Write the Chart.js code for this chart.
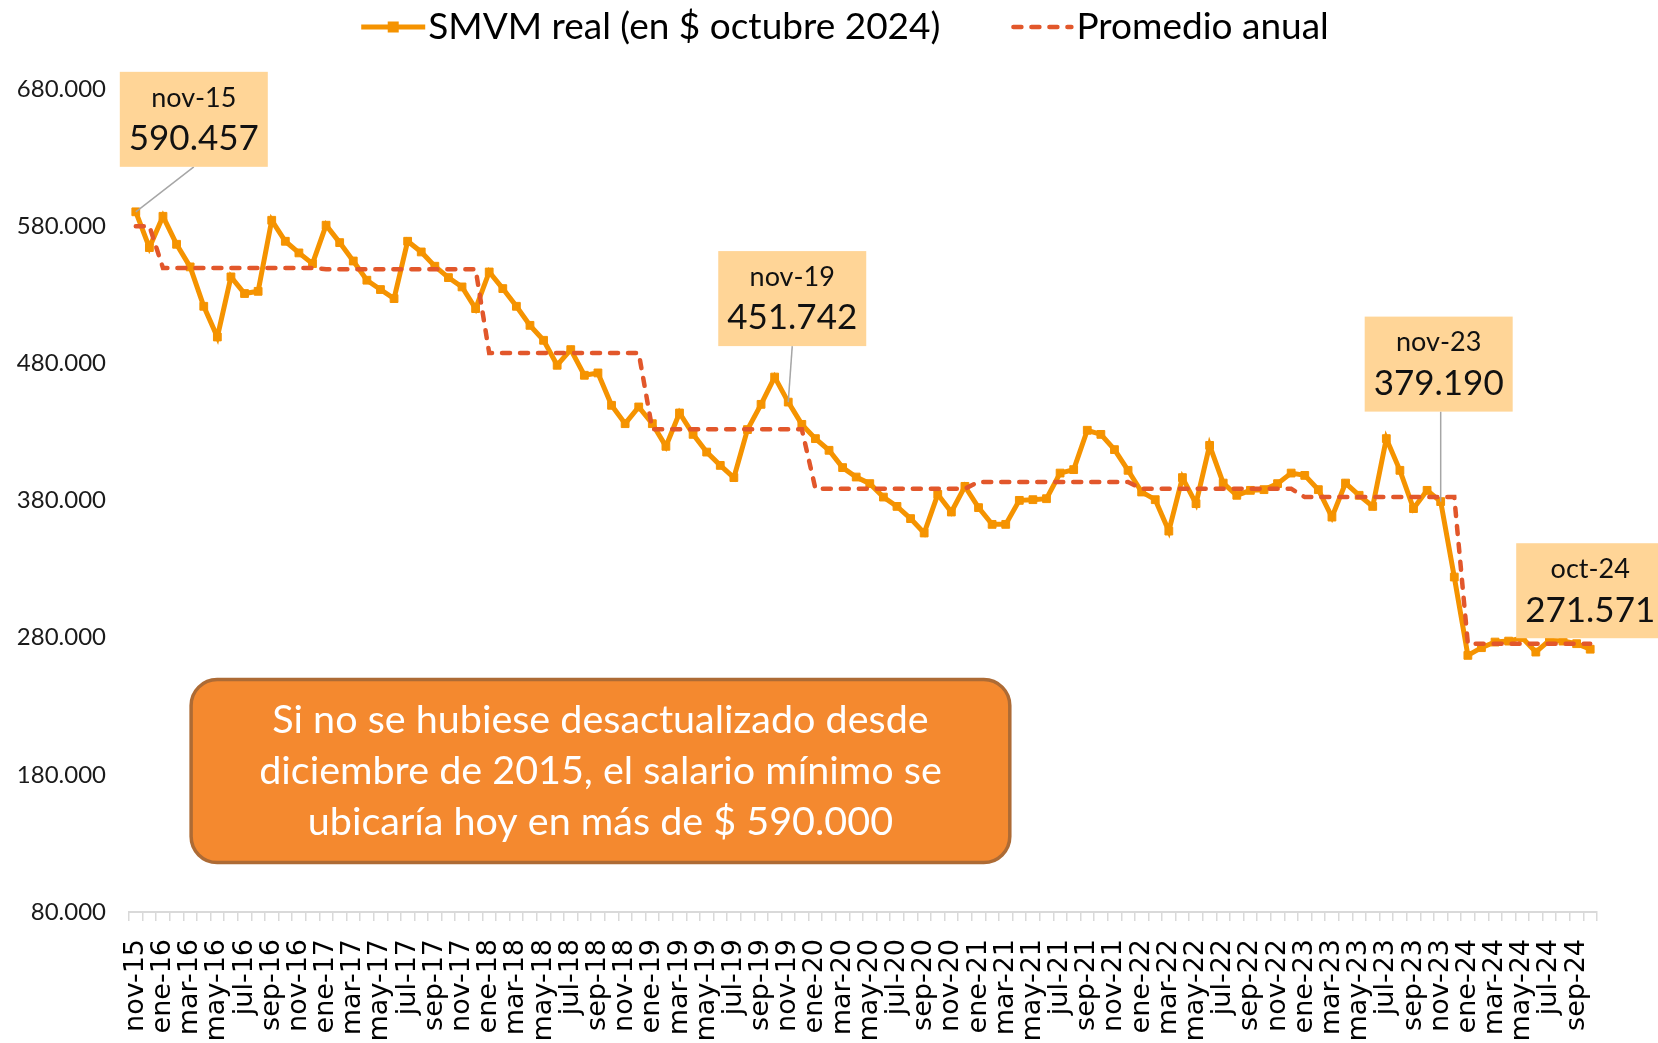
<!DOCTYPE html>
<html lang="es">
<head>
<meta charset="utf-8">
<title>SMVM real</title>
<script src="https://cdn.jsdelivr.net/npm/chart.js@4.4.1/dist/chart.umd.min.js"></script>
<style>
  html, body { margin:0; padding:0; background:#fff; }
  #wrap { position:relative; width:1658px; height:1043px; }
</style>
</head>
<body>
<div id="wrap"><canvas id="smvm"></canvas></div>
<script>
// --- data ---
const MONTHS = ["ene","feb","mar","abr","may","jun","jul","ago","sep","oct","nov","dic"];
const FIRST_YEAR = 2015, FIRST_MONTH = 10; // nov-15

// SMVM real, $ de octubre 2024, nov-15 .. oct-24
const SMVM = [
  590457, 564400,
  587200, 566800, 550300, 521600, 499200, 543000, 530900, 532500, 584300, 569000, 560500, 552700,
  580700, 568000, 554600, 540600, 533800, 527200, 569000, 561200, 550800, 542500, 535700, 519900,
  546600, 534500, 521600, 507700, 496800, 478600, 490000, 471300, 473000, 449400, 436000, 448200,
  436000, 419500, 443800, 428200, 415300, 405600, 396700, 431700, 450100, 470000, 451742, 435500,
  425100, 416600, 404000, 397100, 392300, 382500, 375700, 366800, 356300, 384500, 371600, 390300,
  374800, 362600, 362600, 380100, 380600, 381300, 400000, 402500, 431200, 428200, 417100, 402000,
  386200, 380600, 357700, 396700, 377700, 420200, 392700, 383800, 387400, 387900, 392300, 400000,
  398300, 387900, 367900, 392700, 383800, 375700, 425100, 402000, 374100, 387400, 379190, 324200,
  267100, 272700, 276800, 277500, 280000, 269500, 278000, 277500, 275600, 271571
];

// promedio anual
const AVG_YEARS  = [2015, 2016, 2017, 2018, 2019, 2020, 2021, 2022, 2023, 2024];
const AVG_VALUES = [580000, 549500, 548600, 487500, 431900, 388600, 393500, 388600, 382500, 275600];

const Y_MIN = 80000, Y_MAX = 680000, Y_STEP = 100000;

// highlighted months (index into SMVM)
const CALLOUT_IDX = [0, 48, 96, 107];

const NOTE_LINES = [
  "Si no se hubiese desactualizado desde",
  "diciembre de 2015, el salario mínimo se",
  "ubicaría hoy en más de $ 590.000"
];

const SERIES_NAMES = ["SMVM real (en $ octubre 2024)", "Promedio anual"];

// --- derived ---
const LABELS = [];
const YEAR_OF = [];
for (let i = 0; i < SMVM.length; i++) {
  const m = FIRST_MONTH + i;
  const yr = FIRST_YEAR + Math.floor(m / 12);
  LABELS.push(MONTHS[m % 12] + "-" + String(yr).slice(2));
  YEAR_OF.push(yr);
}
const AVG_SERIES = YEAR_OF.map(yr => AVG_VALUES[AVG_YEARS.indexOf(yr)]);

const fmt = v => Math.round(v).toString().replace(/\B(?=(\d{3})+(?!\d))/g, ".");

const ORANGE = "#F59300";
const RED = "#E2572B";
const FONT = "Lato, 'Open Sans', sans-serif";

// callout placement relative to its point (px)
const CALLOUT_STYLE = {
  0:   { dx: -16, dy: -140, lead: 58 },
  48:  { dx: -70, dy: -151, lead: 4 },
  96:  { dx: -76, dy: -185, lead: 0 },
  107: { dx: -74, dy: -106, lead: null }
};
const BOX_W = 148, BOX_H = 95;

// legend drawn by hand so the samples look like Excel's
const legendPlugin = {
  id: "excelLegend",
  afterDraw(chart) {
    const ctx = chart.ctx;
    const cy = 27;
    ctx.save();
    ctx.font = "37px " + FONT;
    const w1 = ctx.measureText(SERIES_NAMES[0]).width;
    const w2 = ctx.measureText(SERIES_NAMES[1]).width;
    const total = 64 + 3 + w1 + 71 + 60 + 5 + w2;
    let x = 845 - total / 2;

    // sample 1: line + square marker
    ctx.strokeStyle = ORANGE; ctx.lineWidth = 5;
    ctx.beginPath(); ctx.moveTo(x, cy); ctx.lineTo(x + 64, cy); ctx.stroke();
    ctx.fillStyle = ORANGE;
    ctx.fillRect(x + 32 - 5.5, cy - 5.5, 11, 11);
    x += 67;
    ctx.fillStyle = "#000"; ctx.textAlign = "left"; ctx.textBaseline = "middle";
    ctx.fillText(SERIES_NAMES[0], x, cy);
    x += w1 + 71;

    // sample 2: dashes
    ctx.strokeStyle = RED; ctx.lineWidth = 4.5; ctx.lineCap = "round";
    ctx.setLineDash([8, 10]);
    ctx.beginPath(); ctx.moveTo(x + 2, cy); ctx.lineTo(x + 60, cy); ctx.stroke();
    ctx.setLineDash([]);
    x += 65;
    ctx.fillStyle = "#000";
    ctx.fillText(SERIES_NAMES[1], x, cy);
    ctx.restore();
  }
};

const calloutPlugin = {
  id: "callouts",
  afterDatasetsDraw(chart) {
    const { ctx, scales: { x, y } } = chart;
    ctx.save();
    CALLOUT_IDX.forEach(i => {
      const st = CALLOUT_STYLE[i];
      const px = x.getPixelForValue(i);
      const py = y.getPixelForValue(SMVM[i]);
      const left = px + st.dx, top = py + st.dy;
      if (st.lead !== null) {
        ctx.strokeStyle = "#a6a6a6"; ctx.lineWidth = 1.5;
        ctx.beginPath(); ctx.moveTo(px + st.lead, top + BOX_H); ctx.lineTo(px, py); ctx.stroke();
      }
      ctx.fillStyle = "#FFD597";
      ctx.fillRect(left, top, BOX_W, BOX_H);
      ctx.fillStyle = "#111"; ctx.textAlign = "center"; ctx.textBaseline = "middle";
      ctx.font = "27px " + FONT;
      ctx.fillText(LABELS[i], left + BOX_W / 2, top + 26);
      ctx.font = "35px " + FONT;
      ctx.fillText(fmt(SMVM[i]), left + BOX_W / 2, top + 67);
    });
    ctx.restore();
  }
};

const notePlugin = {
  id: "note",
  afterDraw(chart) {
    const { ctx, scales: { x, y } } = chart;
    const l = x.getPixelForValue(4.07), r = x.getPixelForValue(64.3);
    const t = y.getPixelForValue(249500), b = y.getPixelForValue(116000);
    const rad = 26;
    ctx.save();
    ctx.beginPath();
    ctx.moveTo(l + rad, t);
    ctx.arcTo(r, t, r, b, rad);
    ctx.arcTo(r, b, l, b, rad);
    ctx.arcTo(l, b, l, t, rad);
    ctx.arcTo(l, t, r, t, rad);
    ctx.closePath();
    ctx.fillStyle = "#F4892F"; ctx.fill();
    ctx.strokeStyle = "#AD6B35"; ctx.lineWidth = 3.5; ctx.stroke();
    ctx.fillStyle = "#fff"; ctx.textAlign = "center"; ctx.textBaseline = "middle";
    ctx.font = "39.5px " + FONT;
    const cx = (l + r) / 2, cy = (t + b) / 2;
    NOTE_LINES.forEach((s, k) => ctx.fillText(s, cx, cy + (k - 1) * 51));
    ctx.restore();
  }
};

new Chart(document.getElementById("smvm"), {
  type: "line",
  data: {
    labels: LABELS,
    datasets: [
      {
        label: SERIES_NAMES[0],
        data: SMVM,
        borderColor: ORANGE,
        backgroundColor: ORANGE,
        borderWidth: 5,
        pointStyle: "rect",
        pointRadius: 5.5,
        pointBorderWidth: 1,
        pointBackgroundColor: ORANGE,
        pointBorderColor: ORANGE,
        tension: 0,
        order: 2
      },
      {
        label: SERIES_NAMES[1],
        data: AVG_SERIES,
        borderColor: RED,
        backgroundColor: RED,
        borderWidth: 4.5,
        borderDash: [8, 10],
        borderCapStyle: "round",
        pointRadius: 0,
        tension: 0,
        order: 1
      }
    ]
  },
  options: {
    responsive: true,
    maintainAspectRatio: false,
    animation: false,
    layout: { padding: { top: 89, right: 61, bottom: 0, left: 0 } },
    plugins: {
      legend: { display: false },
      tooltip: { enabled: false }
    },
    scales: {
      x: {
        offset: true,
        grid: { display: true, offset: true, drawOnChartArea: false, drawTicks: true, tickLength: 9, color: "#d9d9d9", lineWidth: 1.5 },
        border: { display: true, color: "#d9d9d9", width: 2 },
        ticks: {
          autoSkip: false,
          maxRotation: 90,
          minRotation: 90,
          padding: 18,
          color: "#000",
          font: { family: "'DejaVu Sans', sans-serif", size: 27 },
          callback: (v, i) => (i % 2 === 0 ? LABELS[i] : "")
        },
        afterFit: s => { s.height = 131; }
      },
      y: {
        min: Y_MIN,
        max: Y_MAX,
        grid: { display: false },
        border: { display: false },
        ticks: {
          stepSize: Y_STEP,
          padding: 15,
          color: "#1a1a1a",
          font: { family: FONT, size: 24 },
          callback: v => fmt(v)
        },
        afterFit: s => { s.width = 129; }
      }
    }
  },
  plugins: [legendPlugin, calloutPlugin, notePlugin]
});
</script>
</body>
</html>
